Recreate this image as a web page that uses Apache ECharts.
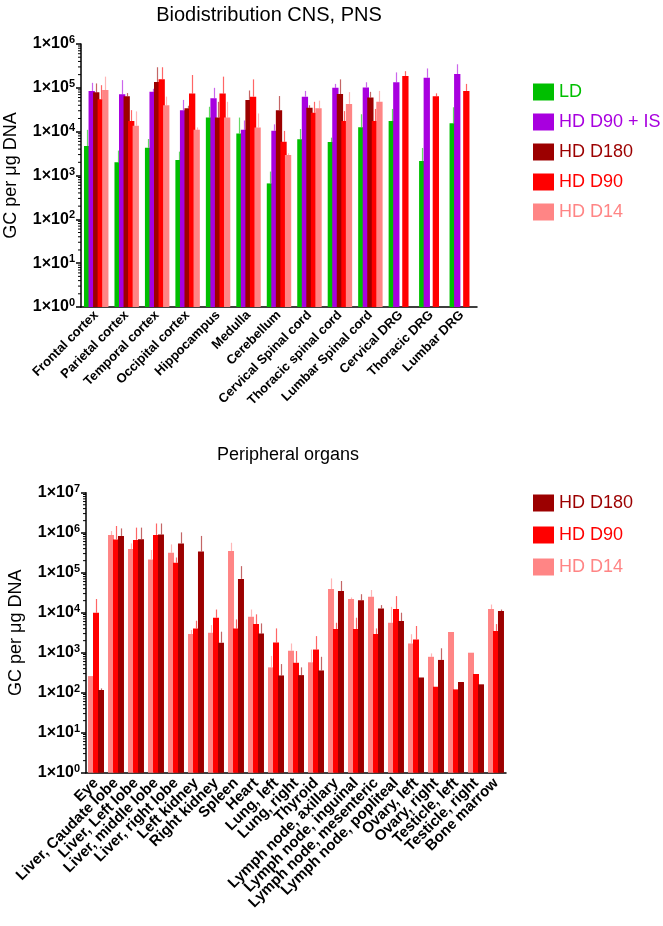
<!DOCTYPE html>
<html><head><meta charset="utf-8">
<script src="https://cdn.jsdelivr.net/npm/echarts@6/dist/echarts.min.js"></script>
<style>html,body{margin:0;padding:0;background:#fff}#c{width:663px;height:926px}</style>
</head><body><div id="c"></div>
<script>
// ---------- Top chart: Biodistribution CNS, PNS ----------
const cnsCats = ['Frontal cortex','Parietal cortex','Temporal cortex','Occipital cortex','Hippocampus','Medulla','Cerebellum','Cervical Spinal cord','Thoracic spinal cord','Lumbar Spinal cord','Cervical DRG','Thoracic DRG','Lumbar DRG'];
const ldVals    = [4700, 2000, 4300, 2250, 21000, 9100, 660, 6700, 5800, 12600, 17500, 2150, 15500];
const ldErr     = [11000, 3700, 6800, 3500, 37000, 21000, 1230, 11500, 7300, 25000, 33000, 4250, 36000];
const isVals    = [85000, 71000, 81000, 31000, 58000, 11000, 10500, 63000, 100000, 102000, 134000, 170000, 207000];
const isErr     = [130000, 150000, 95000, 53000, 100000, 18000, 14700, 85000, 123000, 134000, 225000, 277000, 345000];
const d180Vals  = [79000, 64000, 135000, 34000, 21000, 53000, 31000, 35000, 72000, 60000, null, null, null];
const d180Err   = [126000, 76000, 295000, 39000, 48000, 87000, 65000, 40000, 156000, 81000, null, null, null];
const d90Vals   = [55000, 17500, 158000, 74000, 74000, 63000, 5900, 27000, 17500, 17500, 186000, 64000, 85000];
const d90Err    = [115000, 31000, 295000, 196000, 180000, 156000, 10400, 48000, 29500, 33000, 240000, 75000, 123000];
const d14Vals   = [89000, 13700, 40000, 11000, 21000, 12500, 2950, 34000, 43000, 48000, null, null, null];
const d14Err    = [180000, 29000, 63000, 12500, 48000, 26000, 3200, 51000, 80000, 85000, null, null, null];

// ---------- Bottom chart: Peripheral organs ----------
const perCats = ['Eye','Liver, Caudate lobe','Liver, Left lobe','Liver, middle lobe','Liver, right lobe','Left kidney','Right kidney','Spleen','Heart','Lung, left','Lung, right','Thyroid','Lymph node, axillary','Lymph node, inguinal','Lymph node, mesenteric','Lymph node, popliteal','Ovary, left','Ovary, right','Testicle, left','Testicle, right','Bone marrow'];
const pD14Vals  = [260, 870000, 390000, 215000, 316000, 2930, 3150, 350000, 7900, 430, 1120, 575, 39000, 22000, 25000, 5600, 1700, 790, 3300, 1000, 12300];
const pD14Err   = [null, 1100000, 540000, 370000, 510000, 3700, 4900, 560000, 12000, 830, 1700, 1200, 72000, 24000, 37000, 14000, 2900, 960, null, null, 16000];
const pD90Vals  = [10000, 680000, 660000, 870000, 178000, 4050, 7500, 4000, 5200, 1800, 560, 1200, 3900, 3900, 2930, 12300, 2150, 141, 121, 293, 3500];
const pD90Err   = [22000, 1470000, 1340000, 1700000, 240000, 6300, 12000, 6800, 9100, 4050, 1100, 2600, 5600, 7500, 4050, 26000, 4650, null, null, null, 5200];
const pD180Vals = [117, 830000, 690000, 900000, 540000, 340000, 1780, 70000, 3000, 270, 275, 360, 35000, 20400, 12800, 6200, 240, 660, 185, 162, 11000];
const pD180Err  = [128, 1280000, 1340000, 1700000, 1020000, 830000, 3350, 146000, 5400, 520, 430, 790, 62000, 29000, 15500, 10000, null, 1290, null, null, 12000];

const topTicks = [1, 10, 100, 1000, 10000, 100000, 1000000];
const botTicks = [1, 10, 100, 1000, 10000, 100000, 1000000, 10000000];

const FONT = '"Liberation Sans", Arial, Helvetica, sans-serif';
const COL = {ld:'#00BF00', is:'#A800DF', d180:'#9C0000', d90:'#FF0000', d14:'#FF8585'};

function minorValues(ticks){
  const out = [];
  for (let i = 0; i < ticks.length - 1; i++) for (let k = 2; k <= 9; k++) out.push([0, ticks[i] * k]);
  return out;
}
function barOffset(i, n, w, g){
  const total = n * w + (n - 1) * g * w;
  return -total / 2 + i * w * (1 + g) + w / 2;
}

const TOP_W = 6.3, TOP_G = -0.28, BOT_W = 6, BOT_G = -0.17;

function barSeries(name, vals, color, gi, w, g){
  return {type:'bar', name, xAxisIndex:gi, yAxisIndex:gi, data: vals.map(v => v == null ? '-' : v),
    barWidth:w, barGap:(g*100)+'%', itemStyle:{color}, silent:true};
}
function errSeries(vals, errs, color, gi, idx, n, w, g){
  const data = [];
  vals.forEach((v, i) => { if (v != null && errs[i] != null) data.push([i, v, errs[i]]); });
  const off = barOffset(idx, n, w, g);
  return {type:'custom', xAxisIndex:gi, yAxisIndex:gi, data, clip:false, silent:true, z:3,
    renderItem: (params, api) => {
      const p0 = api.coord([api.value(0), api.value(1)]);
      const p1 = api.coord([api.value(0), api.value(2)]);
      const x = Math.round(p0[0] + off) + 0.5;
      return {type:'line', shape:{x1:x, y1:p0[1], x2:x, y2:p1[1]},
        style:{stroke:color, lineWidth:1.2, opacity:0.6}};
    }};
}
function minorSeries(ticks, gi){
  return {type:'custom', xAxisIndex:gi, yAxisIndex:gi, data: minorValues(ticks), clip:false, silent:true, z:3,
    renderItem: (params, api) => {
      const y = api.coord([0, api.value(1)])[1];
      const x0 = params.coordSys.x;
      return {type:'line', shape:{x1:x0, y1:y, x2:x0 - 3, y2:y}, style:{stroke:'#000', lineWidth:1}};
    }};
}

const yLabel = {
  margin:6,
  formatter: v => '{b|1×10}{s|' + Math.round(Math.log10(v)) + '}',
  rich:{
    b:{fontSize:16, fontWeight:'bold', fontFamily:FONT, color:'#000', lineHeight:19, verticalAlign:'middle'},
    s:{fontSize:11, fontWeight:'bold', fontFamily:FONT, color:'#000', lineHeight:10, verticalAlign:'top'}
  }
};
function yAxis(gi, max, nameGap){
  return {type:'log', logBase:10, gridIndex:gi, min:1, max, splitNumber:Math.round(Math.log10(max)),
    axisLine:{show:true, lineStyle:{color:'#000', width:1.5}},
    axisTick:{show:true, length:5, lineStyle:{color:'#000', width:1.5}},
    splitLine:{show:false}, minorTick:{show:false},
    axisLabel:yLabel,
    name:'GC per μg DNA', nameLocation:'middle', nameGap,
    nameTextStyle:{fontSize:18, fontFamily:FONT, color:'#000'}};
}
function xAxis(gi, cats, fontSize, margin){
  return {type:'category', gridIndex:gi, data:cats,
    axisLine:{onZero:false, lineStyle:{color:'#000', width:1.5}},
    axisTick:{alignWithLabel:true, length:5, lineStyle:{color:'#000', width:1.5}},
    axisLabel:{rotate:45, interval:0, fontSize, fontWeight:'bold', fontFamily:FONT, color:'#000', margin}};
}
function legendItem(name, color){ return {name, textStyle:{color}}; }

const option = {
  animation:false,
  backgroundColor:'#fff',
  grid:[
    {left:81, top:44, width:396, height:263, containLabel:false, outerBoundsMode:'none'},
    {left:86, top:492.7, width:420, height:280, containLabel:false, outerBoundsMode:'none'}
  ],
  xAxis:[xAxis(0, cnsCats, 13, 6), xAxis(1, perCats, 15, 8)],
  yAxis:[yAxis(0, 1e6, 61), yAxis(1, 1e7, 61)],
  legend:[
    {orient:'vertical', left:528, top:78, itemWidth:21, itemHeight:17, itemGap:12, icon:'rect', selectedMode:false,
     textStyle:{fontSize:18, fontFamily:FONT},
     data:[legendItem('LD', COL.ld), legendItem('HD D90 + IS', COL.is), legendItem('HD D180', COL.d180), legendItem('HD D90', COL.d90), legendItem('HD D14', COL.d14)]},
    {orient:'vertical', left:528, top:489, itemWidth:21, itemHeight:17, itemGap:14, icon:'rect', selectedMode:false,
     textStyle:{fontSize:18, fontFamily:FONT},
     data:[legendItem('HD D180', COL.d180), legendItem('HD D90', COL.d90), legendItem('HD D14', COL.d14)]}
  ],
  graphic:[
    {type:'text', x:269, y:15, style:{text:'Biodistribution CNS, PNS', fontSize:20, fontFamily:FONT, fill:'#000', align:'center', verticalAlign:'middle', textAlign:'center', textVerticalAlign:'middle'}},
    {type:'text', x:288, y:455, style:{text:'Peripheral organs', fontSize:18, fontFamily:FONT, fill:'#000', align:'center', verticalAlign:'middle', textAlign:'center', textVerticalAlign:'middle'}}
  ],
  series:[
    barSeries('LD', ldVals, COL.ld, 0, TOP_W, TOP_G),
    barSeries('HD D90 + IS', isVals, COL.is, 0, TOP_W, TOP_G),
    barSeries('HD D180', d180Vals, COL.d180, 0, TOP_W, TOP_G),
    barSeries('HD D90', d90Vals, COL.d90, 0, TOP_W, TOP_G),
    barSeries('HD D14', d14Vals, COL.d14, 0, TOP_W, TOP_G),
    errSeries(ldVals, ldErr, COL.ld, 0, 0, 5, TOP_W, TOP_G),
    errSeries(isVals, isErr, COL.is, 0, 1, 5, TOP_W, TOP_G),
    errSeries(d180Vals, d180Err, COL.d180, 0, 2, 5, TOP_W, TOP_G),
    errSeries(d90Vals, d90Err, COL.d90, 0, 3, 5, TOP_W, TOP_G),
    errSeries(d14Vals, d14Err, COL.d14, 0, 4, 5, TOP_W, TOP_G),
    minorSeries(topTicks, 0),

    barSeries('HD D14', pD14Vals, COL.d14, 1, BOT_W, BOT_G),
    barSeries('HD D90', pD90Vals, COL.d90, 1, BOT_W, BOT_G),
    barSeries('HD D180', pD180Vals, COL.d180, 1, BOT_W, BOT_G),
    errSeries(pD14Vals, pD14Err, COL.d14, 1, 0, 3, BOT_W, BOT_G),
    errSeries(pD90Vals, pD90Err, COL.d90, 1, 1, 3, BOT_W, BOT_G),
    errSeries(pD180Vals, pD180Err, COL.d180, 1, 2, 3, BOT_W, BOT_G),
    minorSeries(botTicks, 1)
  ]
};
const chart = echarts.init(document.getElementById('c'));
chart.setOption(option);
</script>
</body></html>
